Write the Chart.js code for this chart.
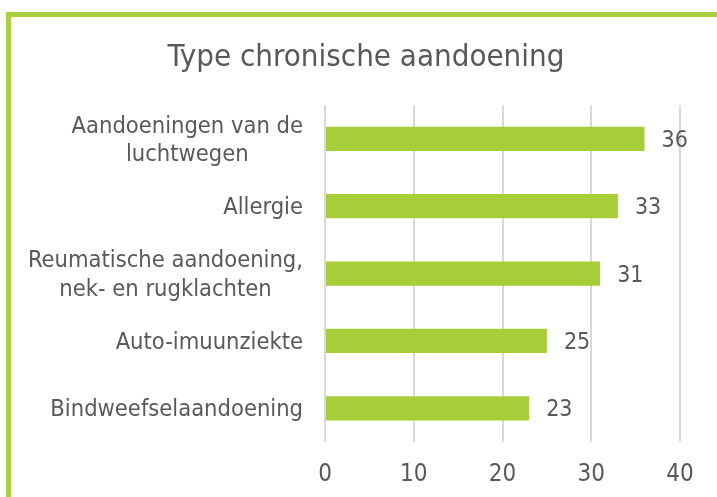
<!DOCTYPE html>
<html>
<head>
<meta charset="utf-8">
<script src="https://cdn.jsdelivr.net/npm/chart.js@4/dist/chart.umd.min.js"></script>
<style>
  html, body { margin: 0; padding: 0; background: #fff; }
  .frame {
    position: absolute; left: 6px; top: 12px; width: 800px; height: 600px;
    border-top: 5px solid #A8D13B; border-left: 5px solid #A8D13B;
  }
  #myChart { position: absolute; left: 0; top: 0; }
</style>
</head>
<body>
<div class="frame"></div>
<canvas id="myChart" width="717" height="497"></canvas>
<script>
var categories = [
  ['Aandoeningen van de', 'luchtwegen'],
  'Allergie',
  ['Reumatische aandoening,', 'nek- en rugklachten'],
  'Auto-imuunziekte',
  'Bindweefselaandoening'
];
var values = [36, 33, 31, 25, 23];
var xTicks = [0, 10, 20, 30, 40];

var FONT = "'DejaVu Sans Condensed', 'Liberation Sans Narrow', 'DejaVu Sans', sans-serif";
var TEXT = '#595959';

// category labels: block right aligned, lines centered inside the block (Excel style)
var catLabels = {
  id: 'catLabels',
  afterDraw: function(chart) {
    var ctx = chart.ctx, y = chart.scales.y;
    ctx.save();
    ctx.font = '23.5px ' + FONT;
    ctx.fillStyle = TEXT;
    ctx.textAlign = 'center';
    ctx.textBaseline = 'middle';
    var right = chart.chartArea.left - 22;
    categories.forEach(function(c, i) {
      var lines = Array.isArray(c) ? c : [c];
      var w = 0;
      lines.forEach(function(l) { w = Math.max(w, ctx.measureText(l).width); });
      var cy = y.getPixelForTick(i) + 2;
      var lh = 28.5;
      lines.forEach(function(l, j) {
        ctx.fillText(l, right - w / 2, cy + (j - (lines.length - 1) / 2) * lh);
      });
    });
    ctx.restore();
  }
};

var valueLabels = {
  id: 'valueLabels',
  afterDatasetsDraw: function(chart) {
    var ctx = chart.ctx;
    ctx.save();
    ctx.font = '23px ' + FONT;
    ctx.fillStyle = TEXT;
    ctx.textAlign = 'left';
    ctx.textBaseline = 'middle';
    chart.getDatasetMeta(0).data.forEach(function(bar, i) {
      ctx.fillText(values[i], bar.x + 17, bar.y + 2);
    });
    ctx.restore();
  }
};

var ctx = document.getElementById('myChart');
var myChart = new Chart(ctx, {
  type: 'bar',
  data: {
    labels: categories,
    datasets: [{
      data: values,
      backgroundColor: '#A6CE39',
      borderWidth: 0,
      categoryPercentage: 1,
      barPercentage: 0.36
    }]
  },
  options: {
    indexAxis: 'y',
    responsive: false,
    animation: false,
    devicePixelRatio: 1,
    layout: { padding: { left: 15, right: 0, top: 0, bottom: 0 } },
    plugins: {
      legend: { display: false },
      tooltip: { enabled: false },
      title: {
        display: true,
        text: 'Type chronische aandoening',
        color: TEXT,
        font: { family: FONT, size: 31, weight: 'normal' },
        padding: { top: 39, bottom: 29 }
      }
    },
    scales: {
      x: {
        min: 0, max: 40,
        afterBuildTicks: function(axis) { axis.ticks = xTicks.map(function(v) { return { value: v }; }); },
        grid: { color: '#D9D9D9', lineWidth: 2, drawTicks: false },
        border: { display: false },
        ticks: { color: TEXT, padding: 18, font: { family: FONT, size: 24 } },
        afterFit: function(s) { s.height = 55; }
      },
      y: {
        grid: { display: false },
        border: { display: false },
        ticks: { display: false },
        afterFit: function(s) { s.width = 310; }
      },
      yRight: {
        axis: 'y',
        type: 'linear',
        position: 'right',
        display: true,
        grid: { display: false },
        border: { display: false },
        ticks: { display: false },
        afterFit: function(s) { s.width = 37; }
      }
    }
  },
  plugins: [catLabels, valueLabels]
});
</script>
</body>
</html>
